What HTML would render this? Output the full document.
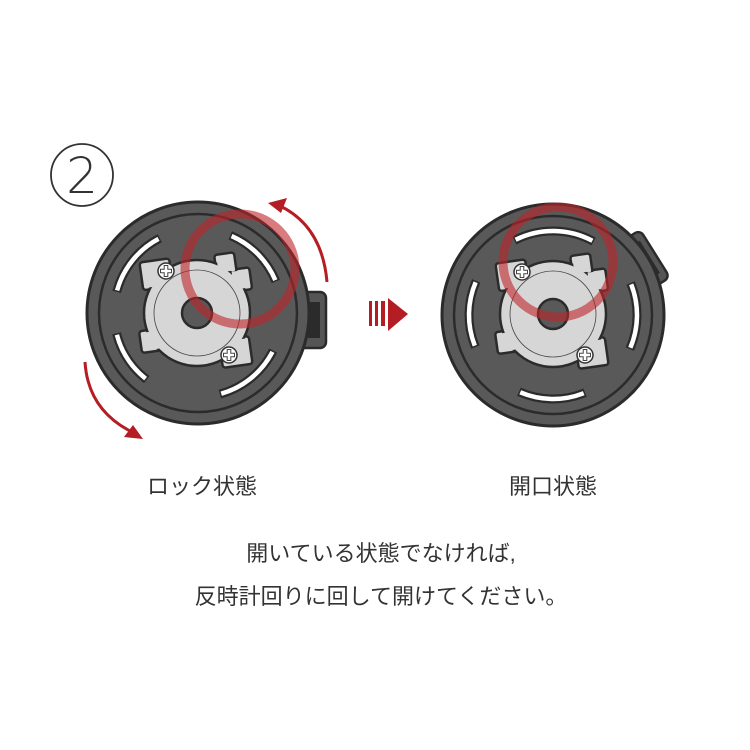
<!DOCTYPE html>
<html><head><meta charset="utf-8"><style>
html,body{margin:0;padding:0;background:#fff;}
svg{display:block}
text{font-family:"Liberation Sans","Noto Sans CJK JP",sans-serif;fill:#333}
</style></head><body>
<svg width="750" height="750" viewBox="0 0 750 750">
<defs>
<g id="screw">
<circle r="8" fill="#fff" stroke="#333" stroke-width="1.5"/>
<path d="M-1.8,-5.5h3.6v3.7h3.7v3.6h-3.7v3.7h-3.6v-3.7h-3.7v-3.6h3.7z" fill="#fff" stroke="#444" stroke-width="1"/>
</g>
<g id="plate">
<g fill="#d6d6d6" stroke="#2b2b2b" stroke-width="2.5" stroke-linejoin="round">
<rect x="-50" y="-58" width="30" height="28" rx="3" transform="rotate(-8)"/>
<rect x="18" y="30" width="30" height="28" rx="3" transform="rotate(-8)"/>
<rect x="-60" y="10" width="22" height="22" rx="3" transform="rotate(-8)"/>
<rect x="38" y="-38" width="20" height="22" rx="3" transform="rotate(-8)"/>
<rect x="25" y="-55" width="20" height="20" rx="3" transform="rotate(-8)"/>
</g>
<circle r="53" fill="#d6d6d6" stroke="#2b2b2b" stroke-width="2.5"/>
<g fill="#d6d6d6">
<rect x="-48" y="-56" width="26" height="24" transform="rotate(-8)"/>
<rect x="20" y="32" width="26" height="24" transform="rotate(-8)"/>
<rect x="-58" y="12" width="18" height="18" transform="rotate(-8)"/>
<rect x="40" y="-36" width="16" height="18" transform="rotate(-8)"/>
<rect x="27" y="-53" width="16" height="16" transform="rotate(-8)"/>
</g>
<circle r="43" fill="none" stroke="#444" stroke-width="0.8"/>
<circle r="15" fill="#595959" stroke="#2b2b2b" stroke-width="2.5"/>
</g>
</defs>
<rect width="750" height="750" fill="#fff"/>
<circle cx="82" cy="175" r="31" fill="none" stroke="#333" stroke-width="1.8"/>
<text x="82" y="193" font-size="50" text-anchor="middle" style="font-family:'DejaVu Sans',sans-serif;font-weight:300">2</text>

<!-- LEFT DISC -->
<g>
<rect x="296" y="292" width="30" height="56" rx="6" fill="#555" stroke="#2b2b2b" stroke-width="2.5"/>
<rect x="308" y="302" width="12" height="36" fill="#2b2b2b"/>
<circle cx="198" cy="313" r="111" fill="#595959" stroke="#2b2b2b" stroke-width="3"/>
<circle cx="198" cy="313" r="99" fill="none" stroke="#2b2b2b" stroke-width="2.5"/>
<g fill="none" transform="translate(198,313)">
<g stroke="#2b2b2b" stroke-width="9">
<circle r="84" pathLength="360" stroke-dasharray="48 312" transform="rotate(195)"/>
<circle r="84" pathLength="360" stroke-dasharray="45 315" transform="rotate(293)"/>
<circle r="84" pathLength="360" stroke-dasharray="38 322" transform="rotate(128)"/>
<circle r="84" pathLength="360" stroke-dasharray="48 312" transform="rotate(27)"/>
</g>
<g stroke="#fff" stroke-width="4.5">
<circle r="84" pathLength="360" stroke-dasharray="46 314" transform="rotate(196)"/>
<circle r="84" pathLength="360" stroke-dasharray="43 317" transform="rotate(294)"/>
<circle r="84" pathLength="360" stroke-dasharray="36 324" transform="rotate(129)"/>
<circle r="84" pathLength="360" stroke-dasharray="46 314" transform="rotate(28)"/>
</g>
</g>
<use href="#plate" x="197" y="313"/>
<use href="#screw" x="166" y="271"/>
<use href="#screw" x="229" y="355"/>
<circle cx="240" cy="269" r="55" fill="none" stroke="#c0242b" stroke-opacity="0.6" stroke-width="9"/>
</g>
<!-- left arrows -->
<path d="M278,205 Q322,225 327,282" fill="none" stroke="#b51d24" stroke-width="3"/>
<path d="M268,203 L287,198 L281,213 Z" fill="#b51d24"/>
<path d="M85,362 Q88,410 132,432" fill="none" stroke="#b51d24" stroke-width="3"/>
<path d="M143,439 L124,437 L133,425 Z" fill="#b51d24"/>

<!-- middle arrow -->
<g fill="#b51d24">
<rect x="369" y="301" width="3" height="25"/>
<rect x="375" y="301" width="3" height="25"/>
<rect x="381" y="301" width="4" height="25"/>
<path d="M388,298 L408,314 L388,331 Z"/>
</g>

<!-- RIGHT DISC -->
<g>
<g transform="rotate(-32 553 315)">
<rect x="642" y="289" width="30" height="56" rx="6" fill="#555" stroke="#2b2b2b" stroke-width="2.5"/>
<rect x="654" y="298" width="12" height="38" fill="#2b2b2b"/>
</g>
<circle cx="553" cy="315" r="111" fill="#595959" stroke="#2b2b2b" stroke-width="3"/>
<circle cx="553" cy="315" r="99" fill="none" stroke="#2b2b2b" stroke-width="2.5"/>
<g fill="none" transform="translate(553,315)">
<g stroke="#2b2b2b" stroke-width="9">
<circle r="84" pathLength="360" stroke-dasharray="56 304" transform="rotate(243)"/>
<circle r="84" pathLength="360" stroke-dasharray="46 314" transform="rotate(158)"/>
<circle r="84" pathLength="360" stroke-dasharray="46 314" transform="rotate(338)"/>
<circle r="84" pathLength="360" stroke-dasharray="46 314" transform="rotate(68)"/>
</g>
<g stroke="#fff" stroke-width="4.5">
<circle r="84" pathLength="360" stroke-dasharray="54 306" transform="rotate(244)"/>
<circle r="84" pathLength="360" stroke-dasharray="44 316" transform="rotate(159)"/>
<circle r="84" pathLength="360" stroke-dasharray="44 316" transform="rotate(339)"/>
<circle r="84" pathLength="360" stroke-dasharray="44 316" transform="rotate(69)"/>
</g>
</g>
<use href="#plate" x="553" y="314"/>
<use href="#screw" x="522" y="272"/>
<use href="#screw" x="585" y="355"/>
<circle cx="558" cy="262" r="55" fill="none" stroke="#c0242b" stroke-opacity="0.6" stroke-width="9"/>
</g>

<text x="202" y="494" font-size="22" text-anchor="middle">ロック状態</text>
<text x="553" y="494" font-size="22" text-anchor="middle">開口状態</text>
<text x="381" y="561" font-size="22" text-anchor="middle">開いている状態でなければ,</text>
<text x="381" y="604" font-size="22" text-anchor="middle">反時計回りに回して開けてください。</text>
</svg>
</body></html>
